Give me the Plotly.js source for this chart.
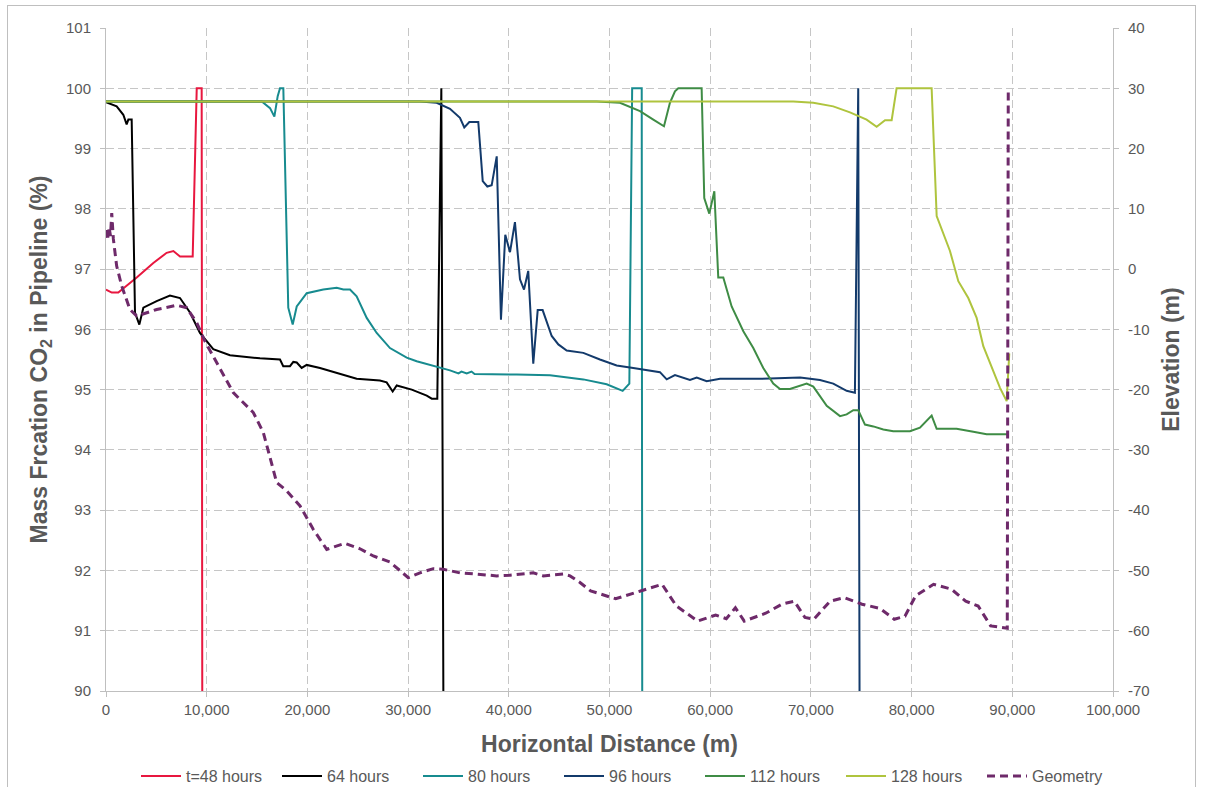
<!DOCTYPE html>
<html>
<head>
<meta charset="utf-8">
<script src="https://cdn.plot.ly/plotly-3.0.1.min.js"></script>
<style>
  html, body { margin: 0; padding: 0; background: #ffffff; }
  #wrap { position: relative; width: 1205px; height: 787px; overflow: hidden; }
  #chart { width: 1205px; height: 787px; }
  #frame { position: absolute; left: 7px; top: 5px; width: 1189px; height: 800px;
           border: 1px solid #bfbfbf; pointer-events: none; box-sizing: border-box; }
</style>
</head>
<body>
<div id="wrap">
  <div id="chart"></div>
  <div id="frame"></div>
</div>
<script>
// ---- Data ----
const seriesNames = ["t=48 hours", "64 hours", "80 hours", "96 hours", "112 hours", "128 hours", "Geometry"];

const x48 = [0, 570, 1220, 2050, 3050, 4700, 6020, 6690, 7350, 8610, 9010, 9500, 9560];
const y48 = [96.66, 96.61, 96.61, 96.72, 96.86, 97.10, 97.27, 97.30, 97.21, 97.21, 100, 100, 90];

const x64 = [0, 1060, 1720, 2050, 2220, 2550, 2880, 3310, 3710, 5030, 6350, 7350, 8340, 9330, 10650, 12310, 15290, 17280, 17600, 18270, 18600, 18940, 19430, 19930, 21250, 24230, 24890, 27200, 27870, 28470, 28870, 30360, 31850, 32350, 32900, 33300, 33500];
const y64 = [99.77, 99.70, 99.56, 99.40, 99.48, 99.48, 96.28, 96.08, 96.36, 96.47, 96.56, 96.52, 96.28, 95.94, 95.67, 95.57, 95.52, 95.50, 95.39, 95.39, 95.46, 95.45, 95.36, 95.41, 95.36, 95.22, 95.18, 95.15, 95.12, 94.97, 95.07, 95.00, 94.90, 94.85, 94.85, 100, 90];

const x80 = [0, 15470, 16290, 16720, 17050, 17280, 17610, 18100, 18540, 18940, 19930, 21580, 22910, 23570, 24230, 24890, 25890, 26880, 28200, 29860, 30850, 32500, 34160, 35000, 35300, 35820, 36300, 36600, 37470, 40780, 44090, 47400, 49720, 51310, 51970, 52250, 53200, 53250];
const y80 = [99.78, 99.78, 99.67, 99.53, 99.87, 100, 100, 96.36, 96.08, 96.38, 96.60, 96.66, 96.69, 96.66, 96.66, 96.55, 96.19, 95.94, 95.69, 95.53, 95.47, 95.40, 95.32, 95.27, 95.30, 95.27, 95.30, 95.26, 95.26, 95.25, 95.24, 95.17, 95.09, 94.98, 95.10, 100, 100, 90];

const x96 = [0, 31180, 32840, 34160, 35150, 35580, 36080, 36970, 37410, 37870, 38300, 38800, 39220, 39650, 40120, 40610, 41110, 41510, 41930, 42430, 42870, 43360, 44260, 44920, 45750, 47400, 49050, 50710, 52360, 55010, 55680, 56500, 57990, 58660, 59650, 60980, 64950, 68930, 70900, 72220, 73550, 74370, 74700, 74830];
const y96 = [99.78, 99.78, 99.76, 99.66, 99.51, 99.35, 99.44, 99.44, 98.46, 98.37, 98.39, 98.87, 96.16, 97.57, 97.28, 97.78, 96.83, 96.66, 96.97, 95.43, 96.32, 96.32, 95.89, 95.75, 95.65, 95.61, 95.50, 95.40, 95.36, 95.29, 95.17, 95.24, 95.16, 95.20, 95.14, 95.18, 95.18, 95.20, 95.16, 95.10, 94.98, 94.95, 100, 90];

const x112 = [0, 48720, 51040, 53030, 54350, 55410, 56000, 56500, 56830, 59150, 59410, 59910, 60410, 60800, 61300, 62130, 63290, 64280, 65270, 66260, 66930, 67920, 69580, 70240, 71570, 72890, 73550, 74210, 74700, 75370, 76200, 77190, 78180, 79840, 80830, 81990, 82490, 84470, 86130, 87450, 89600];
const y112 = [99.78, 99.78, 99.76, 99.62, 99.48, 99.37, 99.76, 99.95, 100, 100, 98.18, 97.92, 98.29, 96.86, 96.86, 96.38, 95.97, 95.69, 95.36, 95.10, 95.01, 95.01, 95.10, 95.05, 94.73, 94.56, 94.59, 94.66, 94.66, 94.42, 94.39, 94.34, 94.31, 94.31, 94.37, 94.57, 94.35, 94.35, 94.30, 94.26, 94.26];

const x128 = [0, 68250, 70240, 72220, 73880, 75530, 76530, 77360, 78020, 78510, 81990, 82490, 83810, 84640, 85630, 86460, 87120, 87950, 88780, 89440, 89700];
const y128 = [99.78, 99.78, 99.76, 99.70, 99.60, 99.48, 99.36, 99.47, 99.47, 100, 100, 97.88, 97.30, 96.80, 96.52, 96.19, 95.72, 95.39, 95.03, 94.81, 95.60];

const xGeom = [0, 150, 300, 450, 570, 650, 730, 1060, 1560, 2380, 3050, 5030, 7020, 8010, 9010, 9830, 10800, 12640, 14630, 15620, 16950, 17940, 19270, 20590, 21920, 23730, 25220, 26540, 28200, 30020, 31180, 32500, 33490, 35150, 36810, 38800, 40120, 42430, 43420, 45410, 46080, 47070, 48130, 50610, 53090, 55220, 56640, 58770, 60540, 61600, 62500, 63380, 65510, 67110, 68350, 69410, 70300, 71900, 73310, 75080, 76860, 78280, 79340, 80400, 82180, 83950, 85370, 86610, 87850, 89500, 89600];
const yGeom = [6.5, 4.8, 7.0, 5.5, 9.3, 6.0, 5.0, 0.5, -2.8, -6.7, -7.8, -6.7, -6.0, -6.4, -8.9, -12.0, -15.0, -20.5, -23.8, -27.1, -35.4, -36.8, -39.3, -43.2, -46.5, -45.5, -46.4, -47.6, -48.6, -51.2, -50.4, -49.7, -49.8, -50.4, -50.6, -50.9, -50.8, -50.4, -50.9, -50.6, -50.9, -52.0, -53.4, -54.7, -53.4, -52.3, -55.9, -58.4, -57.4, -58.0, -56.2, -58.4, -57.1, -55.6, -55.1, -57.8, -58.1, -55.1, -54.5, -55.6, -56.3, -58.1, -57.6, -54.2, -52.3, -53.1, -55.1, -55.9, -59.2, -59.6, 30];

const xTickVals = [0, 10000, 20000, 30000, 40000, 50000, 60000, 70000, 80000, 90000, 100000];
const y2TickVals = [-70, -60, -50, -40, -30, -20, -10, 0, 10, 20, 30, 40];
const y2TickText = ["-70", "-60", "-50", "-40", "-30", "-20", "-10", "0", "10", "20", "30", "40"];

// ---- Styling ----
const colors = ["#E8173F", "#000000", "#178B8F", "#133A6B", "#3F8C45", "#AFC43E", "#6E2A6A"];
const FONT = "Liberation Sans, Arial, sans-serif";
const GREY = "#595959";

const xs = [x48, x64, x80, x96, x112, x128];
const ys = [y48, y64, y80, y96, y112, y128];

const traces = xs.map((xv, i) => ({
  type: "scatter", mode: "lines", name: seriesNames[i],
  x: xv, y: ys[i], xaxis: "x", yaxis: "y",
  line: { color: colors[i], width: 2 }, hoverinfo: "skip"
}));
traces.push({
  type: "scatter", mode: "lines", name: seriesNames[6],
  x: xGeom, y: yGeom, xaxis: "x", yaxis: "y2",
  line: { color: colors[6], width: 3, dash: "8px,5px" }, hoverinfo: "skip"
});

const tickFont = { family: FONT, size: 15, color: GREY };
const titleFont = { family: FONT, size: 23, color: GREY, weight: "bold" };

const layout = {
  width: 1205, height: 787,
  margin: { l: 106, r: 92, t: 28, b: 96, autoexpand: false },
  paper_bgcolor: "#ffffff", plot_bgcolor: "#ffffff",
  showlegend: true,
  xaxis: {
    range: [0, 100000], tickvals: xTickVals, tickformat: ",d",
    showgrid: true, gridcolor: "#c6c6c6", griddash: "8px,4px", gridwidth: 1,
    showline: true, linecolor: "#bfbfbf", linewidth: 1,
    ticks: "outside", ticklen: 5, tickcolor: "#bfbfbf",
    zeroline: false, tickfont: tickFont,
    title: { text: "<b>Horizontal Distance (m)</b>", font: titleFont, standoff: 18 }
  },
  yaxis: {
    range: [90, 101], dtick: 1, tick0: 90,
    showgrid: true, gridcolor: "#c6c6c6", griddash: "8px,4px", gridwidth: 1,
    showline: true, linecolor: "#bfbfbf", linewidth: 1,
    ticks: "outside", ticklen: 5, tickcolor: "#bfbfbf",
    zeroline: false, tickfont: tickFont, ticklabelstandoff: 6,
    title: { text: "<b>Mass Frcation CO<sub>2</sub> in Pipeline (%)</b>", font: titleFont, standoff: 11 }
  },
  yaxis2: {
    range: [-70, 40], tickvals: y2TickVals, ticktext: y2TickText, overlaying: "y", side: "right",
    showgrid: false, showline: true, linecolor: "#bfbfbf", linewidth: 1,
    ticks: "outside", ticklen: 5, tickcolor: "#bfbfbf",
    zeroline: false, tickfont: tickFont, ticklabelstandoff: 6,
    title: { text: "<b>Elevation (m)</b>", font: titleFont, standoff: 14 }
  },
  legend: {
    orientation: "h", xref: "container", x: 136 / 1205, xanchor: "left",
    yref: "container", y: 0.014, yanchor: "middle",
    font: { family: FONT, size: 16, color: GREY },
    entrywidth: 86, entrywidthmode: "pixels", itemwidth: 40,
    bgcolor: "rgba(0,0,0,0)", borderwidth: 0, traceorder: "normal"
  }
};

Plotly.newPlot("chart", traces, layout, { displayModeBar: false, staticPlot: true });
</script>
</body>
</html>
